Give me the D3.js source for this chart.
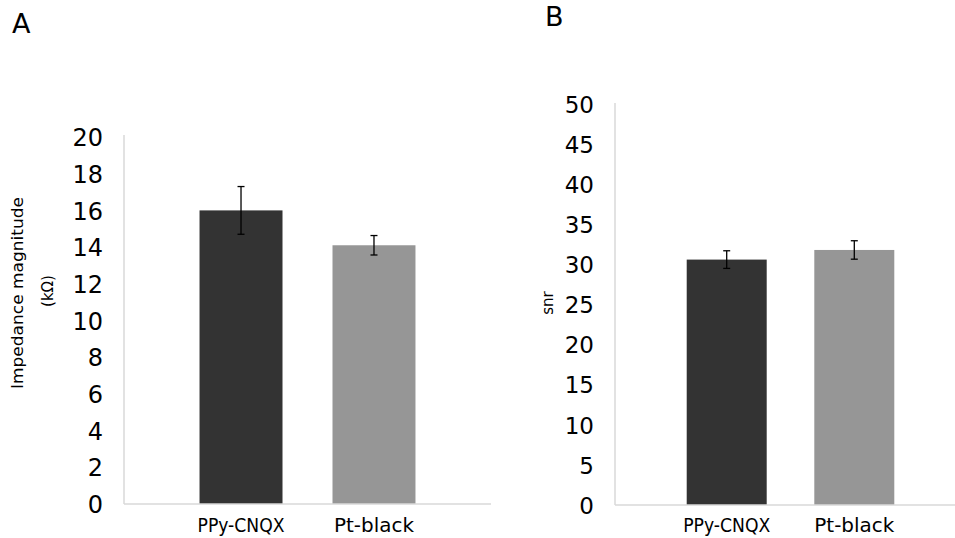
<!DOCTYPE html>
<html><head><meta charset="utf-8">
<script src="https://cdn.jsdelivr.net/npm/d3@7"></script>
<style>
html,body{margin:0;padding:0;background:#fff;}
svg{display:block;font-family:"DejaVu Sans",Verdana,sans-serif;}
</style></head>
<body>
<svg id="chart" width="955" height="538"></svg>
<script>
// ---- data ----
const categories = ["PPy-CNQX", "Pt-black"];
const barColors = ["#333333", "#969696"];
const impedanceValues = [16.0, 14.1];
const impedanceErrors = [1.3, 0.53];
const snrValues = [30.6, 31.8];
const snrErrors = [1.1, 1.15];
const impedanceTicks = [0, 2, 4, 6, 8, 10, 12, 14, 16, 18, 20];
const snrTicks = [0, 5, 10, 15, 20, 25, 30, 35, 40, 45, 50];

const svg = d3.select("#chart");

function panel(cfg) {
  const g = svg.append("g");
  const y = d3.scaleLinear().domain(cfg.yDomain).range([cfg.y0, cfg.y1]);
  const x = d3.scaleBand().domain(categories).range([cfg.xLeft, cfg.xRight])
    .paddingInner(cfg.pi).paddingOuter(cfg.po);

  // y axis labels
  const ya = g.append("g").attr("transform", `translate(${cfg.xLeft},0)`)
    .call(d3.axisLeft(y).tickValues(cfg.ticks).tickSize(0).tickPadding(21).tickFormat(d3.format("d")));
  ya.select(".domain").remove();
  ya.selectAll("text").attr("font-size", cfg.tickFont).attr("fill", "#000")
    .attr("font-family", "DejaVu Sans").attr("dy", "0.36em");

  // axis lines
  g.append("line").attr("x1", cfg.xLeft).attr("x2", cfg.xLeft)
    .attr("y1", cfg.axisTop).attr("y2", y(0))
    .attr("stroke", "#d9d9d9").attr("stroke-width", 1.5);

  // bars
  g.selectAll("rect.bar").data(cfg.values).join("rect")
    .attr("class", "bar")
    .attr("x", (d, i) => x(categories[i]))
    .attr("width", x.bandwidth())
    .attr("y", d => y(d))
    .attr("height", d => y(0) - y(d))
    .attr("fill", (d, i) => barColors[i]);

  // x axis
  const xa = g.append("g").attr("transform", `translate(0,${y(0)})`)
    .call(d3.axisBottom(x).tickSize(0));
  xa.select(".domain").remove();
  xa.selectAll("text").attr("font-size", 19).attr("fill", "#000")
    .attr("font-family", "DejaVu Sans")
    .attr("y", cfg.catY).attr("dy", 0)
    .attr("textLength", 87).attr("lengthAdjust", "spacingAndGlyphs");
  xa.selectAll(".tick text").filter(d => d === "Pt-black").attr("textLength", 80);

  g.append("line").attr("x1", cfg.xLeft).attr("x2", cfg.xRight)
    .attr("y1", y(0)).attr("y2", y(0))
    .attr("stroke", "#d9d9d9").attr("stroke-width", 1.5);

  // error bars
  const cap = 3.5;
  cfg.values.forEach((v, i) => {
    const cx = x(categories[i]) + x.bandwidth() / 2;
    const e = cfg.errors[i];
    g.append("line").attr("x1", cx).attr("x2", cx).attr("y1", y(v + e)).attr("y2", y(v - e))
      .attr("stroke", "#000").attr("stroke-width", 1.3);
    [v + e, v - e].forEach(t => {
      g.append("line").attr("x1", cx - cap).attr("x2", cx + cap).attr("y1", y(t)).attr("y2", y(t))
        .attr("stroke", "#000").attr("stroke-width", 1.3);
    });
  });

  // panel letter
  svg.append("text").attr("x", cfg.letterX).attr("y", cfg.letterY)
    .attr("font-size", 27).attr("font-family", "DejaVu Sans").text(cfg.letter);
}

panel({
  yDomain: [0, 20], y0: 504, y1: 137, axisTop: 135, ticks: impedanceTicks, tickFont: 24,
  xLeft: 124, xRight: 491, pi: 0.376, po: 0.568, values: impedanceValues, errors: impedanceErrors,
  catY: 28, letter: "A", letterX: 12, letterY: 33
});
panel({
  yDomain: [0, 50], y0: 505, y1: 104, axisTop: 103, ticks: snrTicks, tickFont: 23,
  xLeft: 615, xRight: 966, pi: 0.373, po: 0.562, values: snrValues, errors: snrErrors,
  catY: 27, letter: "B", letterX: 545, letterY: 26
});

// y-axis titles
svg.append("text").attr("transform", "translate(23,293) rotate(-90)")
  .attr("text-anchor", "middle").attr("font-size", 15)
  .attr("textLength", 192).attr("lengthAdjust", "spacingAndGlyphs")
  .text("Impedance magnitude");
svg.append("text").attr("transform", "translate(53,291) rotate(-90)")
  .attr("text-anchor", "middle").attr("font-size", 15)
  .text("(kΩ)");
svg.append("text").attr("transform", "translate(553,303) rotate(-90)")
  .attr("text-anchor", "middle").attr("font-size", 15)
  .text("snr");
</script>
</body></html>
